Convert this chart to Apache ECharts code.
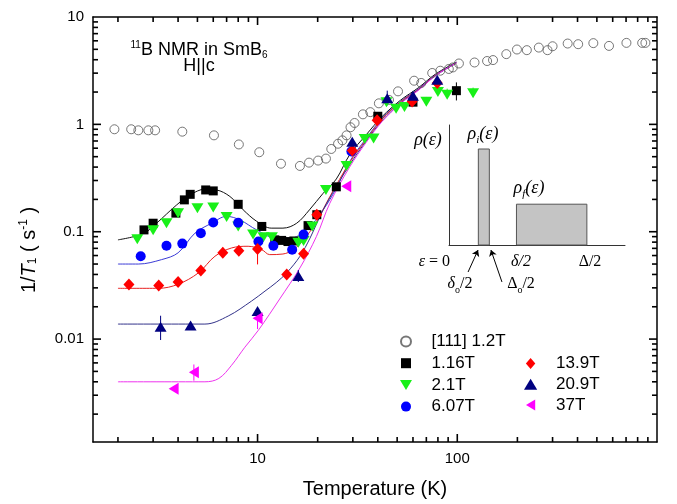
<!DOCTYPE html>
<html>
<head>
<meta charset="utf-8">
<script src="https://cdn.jsdelivr.net/npm/echarts/dist/echarts.min.js"></script>
<style>
  html, body { margin: 0; padding: 0; background: #fff; }
  #chart { width: 677px; height: 504px; }
</style>
</head>
<body>
<div id="chart"></div>
<script>
// 坐标范围 (log-log)
const X_MIN = 1.5, X_MAX = 1000
const Y_MIN = 0.0011, Y_MAX = 10

// tick values
const xLabelTicks = [10, 100]
const xMajorTicks = [10, 100]
const xMinorTicks = [2, 3, 4, 5, 6, 7, 8, 9, 20, 30, 40, 50, 60, 70, 80, 90, 200, 300, 400, 500, 600, 700, 800, 900]
const yLabelTicks = [0.01, 0.1, 1, 10]
const yMajorTicks = [0.01, 0.1, 1]
const yMinorTicks = [0.002, 0.003, 0.004, 0.005, 0.006, 0.007, 0.008, 0.009,
  0.02, 0.03, 0.04, 0.05, 0.06, 0.07, 0.08, 0.09,
  0.2, 0.3, 0.4, 0.5, 0.6, 0.7, 0.8, 0.9,
  2, 3, 4, 5, 6, 7, 8, 9]

// measured 1/T1 data  [T (K), 1/T1 (s^-1)]
const open111 = [[1.92, 0.90], [2.33, 0.90], [2.53, 0.88], [2.84, 0.88], [3.07, 0.88], [4.2, 0.855], [6.05, 0.79],
  [8.06, 0.65], [10.2, 0.55], [13.1, 0.43], [16.3, 0.41], [18.1, 0.44], [20.1, 0.46], [22.0, 0.48], [23.4, 0.59],
  [25.3, 0.66], [26.6, 0.71], [27.9, 0.79], [29.2, 0.94], [30.6, 1.03], [33.7, 1.24], [36.7, 1.30], [40.5, 1.57],
  [45.5, 1.69], [50.5, 2.03], [60.8, 2.55], [66, 2.43], [74.9, 3.01], [82.2, 3.16], [90.7, 3.28], [95, 3.39],
  [101.9, 3.69], [122, 3.77], [141, 3.89], [151, 3.97], [176, 4.51], [199, 4.98], [223, 4.91], [256, 5.19],
  [283, 4.91], [300, 5.34], [357, 5.66], [403, 5.58], [480, 5.71], [575, 5.38], [703, 5.74], [843, 5.74], [875, 5.74]]
const d116 = [[2.7, 0.104], [3.0, 0.12], [3.9, 0.149], [4.3, 0.198], [4.6, 0.223], [5.5, 0.245], [6.0, 0.24],
  [8.0, 0.18], [10.5, 0.112], [12.2, 0.084], [13.2, 0.083], [14.2, 0.081], [15.2, 0.082], [17.9, 0.114],
  [19.8, 0.144], [24.8, 0.262], [40, 1.19], [60, 1.61], [99, 2.06]]
const d21 = [[2.5, 0.085], [3.0, 0.103], [3.5, 0.12], [4.0, 0.149], [5.0, 0.165], [6.0, 0.168], [7.0, 0.137],
  [8.0, 0.112], [9.5, 0.094], [10.7, 0.089], [11.8, 0.089], [16.0, 0.079], [17.0, 0.082], [18.8, 0.112],
  [22.0, 0.245], [27.9, 0.41], [34.4, 0.73], [38.1, 0.74], [44.2, 1.61], [49.4, 1.4], [54.4, 1.45], [70, 1.62],
  [80, 2.0], [89, 1.89], [120, 1.95]]
const d607 = [[2.6, 0.059], [3.5, 0.074], [4.2, 0.0775], [5.2, 0.097], [6.0, 0.122], [8.0, 0.121], [10.1, 0.081],
  [12.0, 0.074], [14.9, 0.068], [17.0, 0.094], [29.5, 0.56]]
const d139 = [[2.27, 0.0323], [3.2, 0.0315], [4.0, 0.034], [5.2, 0.0436], [6.7, 0.0636], [8.06, 0.0665], [10, 0.069],
  [14.0, 0.040], [17, 0.0625], [19.8, 0.144], [29.8, 0.57], [39.7, 1.09], [59.4, 1.63], [79.4, 2.43]]
const d209 = [[3.27, 0.013], [4.62, 0.0134], [10, 0.0183], [16, 0.0386], [29.8, 0.69], [44.6, 1.75], [60, 1.85], [79.4, 2.6]]
const d37 = [[3.8, 0.00345], [4.8, 0.0049], [10, 0.0156], [27.8, 0.265]]

// error bars [T, low, high]
const err116 = [[8.0, 0.165, 0.197], [99, 1.67, 2.46]]
const err21 = [[89, 1.8, 2.15], [120, 1.8, 2.2], [70, 1.5, 1.8]]
const err139 = [[10, 0.0496, 0.0757], [6.7, 0.058, 0.071]]
const err209 = [[3.27, 0.0098, 0.0165], [44.6, 1.5, 2.06], [16, 0.034, 0.044]]
const err37 = [[4.8, 0.0041, 0.0058], [10, 0.0124, 0.0178]]

// fitted curves
const fit116 = [[2.0, 0.084], [2.68, 0.096], [3.12, 0.12], [3.94, 0.178], [4.59, 0.22], [5.45, 0.249], [6.23, 0.245],
  [7.27, 0.213], [8.47, 0.16], [9.9, 0.125], [11.7, 0.108], [13.4, 0.108], [15.7, 0.12], [18.2, 0.16], [21.3, 0.228],
  [24.8, 0.31], [28.9, 0.52], [35, 0.80], [42, 1.18], [52, 1.68], [64, 2.2], [78, 2.95], [99, 3.8]]
const fit607 = [[2.0, 0.05], [2.53, 0.05], [3.31, 0.055], [4.0, 0.0636], [4.86, 0.097], [5.89, 0.12], [7.0, 0.139],
  [8.15, 0.129], [9.9, 0.104], [12.4, 0.087], [14.5, 0.087], [17.6, 0.104], [21.3, 0.16], [24.8, 0.254], [28.9, 0.45],
  [35, 0.74], [42, 1.14], [52, 1.64], [64, 2.15], [78, 2.9], [99, 3.75]]
const fit139 = [[2.0, 0.0297], [3.19, 0.0297], [4.0, 0.0324], [5.06, 0.0414], [6.12, 0.0591], [7.41, 0.0706],
  [8.97, 0.0732], [10.5, 0.068], [11.5, 0.0612], [13.4, 0.062], [15.1, 0.068], [17.0, 0.084], [19.8, 0.125],
  [23, 0.212], [28.9, 0.44], [35, 0.72], [42, 1.12], [52, 1.62], [64, 2.12], [78, 2.88], [99, 3.72]]
const fit209 = [[2.0, 0.0138], [5.45, 0.0138], [7.13, 0.0164], [9.33, 0.0226], [10.9, 0.028], [12.4, 0.0336],
  [14.0, 0.0414], [16.3, 0.059], [18.3, 0.087], [21.3, 0.16], [25, 0.27], [28.9, 0.42], [35, 0.70], [42, 1.08],
  [52, 1.58], [64, 2.1], [78, 2.85], [99, 3.72]]
const fit37 = [[2.0, 0.004], [5.45, 0.004], [6.4, 0.0043], [7.41, 0.0057], [8.64, 0.0084], [10.1, 0.0121],
  [12.9, 0.0236], [16.3, 0.046], [19.7, 0.09], [23, 0.184], [28.9, 0.40], [35, 0.68], [42, 1.06], [52, 1.56],
  [64, 2.08], [78, 2.85], [99, 3.75]]

// inset: density of states sketch  [eps start, eps end, height]
const insetBlocks = [[2.0, 2.75, 8.0], [4.6, 9.4, 3.4]]
const insetArrows = [[[1.30, -2.25], [1.98, -0.42]], [[3.61, -3.08], [2.86, -0.42]]]

const FONT = '"Liberation Sans", Arial, Helvetica, sans-serif'
const SERIF = '"Liberation Serif", "Times New Roman", serif'

const SYM_SQUARE = 'path://M0,0H10V10H0Z'
const SYM_TRI_DOWN = 'path://M0,0H12L6,10Z'
const SYM_TRI_UP = 'path://M6,0L12,10H0Z'
const SYM_TRI_LEFT = 'path://M0,6L10,0V12Z'
const SYM_DIAMOND = 'path://M6,0L12,7L6,14L0,7Z'

function fmtNum (v) {
  return String(+Number(v).toPrecision(3))
}

function logAxis (kind, position, labels) {
  let ax = {
    type: 'log',
    logBase: 10,
    min: kind === 'x' ? X_MIN : Y_MIN,
    max: kind === 'x' ? X_MAX : Y_MAX,
    position: position,
    axisLine: { show: true, onZero: false, lineStyle: { color: '#000', width: 1.5 } },
    axisTick: { show: false },
    axisLabel: { show: false },
    splitLine: { show: false },
    minorTick: { show: false }
  }
  if (labels) {
    ax.axisLabel = {
      show: true,
      customValues: labels,
      margin: 9,
      fontSize: 15,
      color: '#000',
      fontFamily: FONT,
      formatter: fmtNum
    }
  }
  return ax
}

function errRender (params, api) {
  let p1 = api.coord([api.value(0), api.value(1)])
  let p2 = api.coord([api.value(0), api.value(2)])
  return {
    type: 'line',
    shape: { x1: p1[0], y1: p1[1], x2: p2[0], y2: p2[1] },
    style: { stroke: api.visual('color'), lineWidth: 1 }
  }
}

function errSeries (data, color) {
  return {
    type: 'custom',
    renderItem: errRender,
    data: data,
    itemStyle: { color: color },
    silent: true,
    z: 3
  }
}

function fitSeries (data, color) {
  return {
    type: 'line',
    data: data,
    smooth: 0.35,
    showSymbol: false,
    symbol: 'none',
    lineStyle: { color: color, width: 1 },
    silent: true,
    z: 2
  }
}

function scatterSeries (name, data, symbol, size, color) {
  return {
    name: name,
    type: 'scatter',
    data: data,
    symbol: symbol,
    symbolSize: size,
    itemStyle: { color: color, opacity: 1 },
    z: 4
  }
}

function richLabel (x, y, text, rich, extra) {
  return {
    type: 'text', x: x, y: y,
    style: Object.assign({
      text: text, fontSize: 16, fontFamily: SERIF, fill: '#000',
      align: 'center', verticalAlign: 'middle', rich: rich || {}
    }, extra || {})
  }
}

let chart = echarts.init(document.getElementById('chart'), null, { renderer: 'canvas' })

let legendText = { fontSize: 17, color: '#000', fontFamily: FONT }
let subSerif = { fontSize: 11, fontStyle: 'italic', fontFamily: SERIF, lineHeight: 24, verticalAlign: 'bottom' }
let itSerif = { fontSize: 18, fontStyle: 'italic', fontFamily: SERIF, lineHeight: 24, verticalAlign: 'middle' }

let baseGraphics = [
  {
    type: 'text', x: 29, y: 250, rotation: Math.PI / 2,
    style: {
      text: '1/{it|T}{sub|1} ( s{sup|-1} )',
      fontSize: 20, fontFamily: FONT, fill: '#000', align: 'center', verticalAlign: 'middle',
      rich: {
        it: { fontSize: 20, fontStyle: 'italic', fontFamily: FONT, lineHeight: 26, verticalAlign: 'middle' },
        sub: { fontSize: 12, fontFamily: FONT, lineHeight: 26, verticalAlign: 'bottom', padding: [0, 0, 3, 0] },
        sup: { fontSize: 12, fontFamily: FONT, lineHeight: 26, verticalAlign: 'top', padding: [2, 0, 0, 0] }
      }
    }
  },
  {
    type: 'text', x: 199, y: 50,
    style: {
      text: '{sup|11}B NMR in SmB{sub|6}',
      fontSize: 18, fontFamily: FONT, fill: '#000', align: 'center', verticalAlign: 'middle',
      rich: {
        sup: { fontSize: 10, fontFamily: FONT, lineHeight: 22, verticalAlign: 'top', padding: [1, 0, 0, 0] },
        sub: { fontSize: 10, fontFamily: FONT, lineHeight: 22, verticalAlign: 'bottom', padding: [0, 0, 1, 0] }
      }
    }
  },
  {
    type: 'text', x: 199, y: 66,
    style: { text: 'H||c', fontSize: 18, fontFamily: FONT, fill: '#000', align: 'center', verticalAlign: 'middle' }
  },
  // inset labels
  richLabel(428, 140, '{it|ρ(ε)}', { it: itSerif }),
  richLabel(483, 134, '{it|ρ}{sub|i}{it|(ε)}', { it: itSerif, sub: subSerif }),
  richLabel(529, 188, '{it|ρ}{sub|f}{it|(ε)}', { it: itSerif, sub: subSerif }),
  richLabel(450, 262, '{it|ε} = 0', { it: { fontSize: 16, fontStyle: 'italic', fontFamily: SERIF } }, { align: 'right' }),
  richLabel(521, 262, 'δ/2', null, { fontStyle: 'italic' }),
  richLabel(590, 262, 'Δ/2'),
  richLabel(460, 284, '{it|δ}{sub|o}/2', {
    it: { fontSize: 16, fontStyle: 'italic', fontFamily: SERIF, lineHeight: 22, verticalAlign: 'middle' },
    sub: { fontSize: 10, fontFamily: SERIF, lineHeight: 22, verticalAlign: 'bottom' }
  }),
  richLabel(521, 284, 'Δ{sub|o}/2', {
    sub: { fontSize: 10, fontFamily: SERIF, lineHeight: 22, verticalAlign: 'bottom' }
  })
]

let option = {
  animation: false,
  backgroundColor: '#fff',
  grid: [
    { left: 93, right: 20, top: 17, bottom: 60 },
    { left: 449, top: 125, width: 176, height: 120 }
  ],
  xAxis: [
    Object.assign(logAxis('x', 'bottom', xLabelTicks), {
      name: 'Temperature (K)',
      nameLocation: 'middle',
      nameGap: 37,
      nameTextStyle: { fontSize: 20, color: '#000', fontFamily: FONT }
    }),
    logAxis('x', 'top'),
    {
      type: 'value', gridIndex: 1, min: 0, max: 12,
      axisLine: { show: true, onZero: false, lineStyle: { color: '#333', width: 1 } },
      axisTick: { show: false }, axisLabel: { show: false }, splitLine: { show: false }
    }
  ],
  yAxis: [
    logAxis('y', 'left', yLabelTicks),
    logAxis('y', 'right'),
    {
      type: 'value', gridIndex: 1, min: 0, max: 10,
      axisLine: { show: true, onZero: false, lineStyle: { color: '#333', width: 1 } },
      axisTick: { show: false }, axisLabel: { show: false }, splitLine: { show: false }
    }
  ],
  legend: [
    {
      orient: 'vertical', left: 395, top: 328, itemWidth: 41, itemHeight: 10, itemGap: 4.7,
      selectedMode: false, textStyle: legendText,
      data: [
        { name: '[111] 1.2T', icon: 'circle' },
        { name: '1.16T', icon: SYM_SQUARE },
        { name: '2.1T', icon: SYM_TRI_DOWN },
        { name: '6.07T', icon: 'circle' }
      ]
    },
    {
      orient: 'vertical', left: 519, top: 350, itemWidth: 41, itemHeight: 11, itemGap: 3.7,
      selectedMode: false, textStyle: legendText,
      data: [
        { name: '13.9T', icon: SYM_DIAMOND },
        { name: '20.9T', icon: SYM_TRI_UP },
        { name: '37T', icon: SYM_TRI_LEFT }
      ]
    }
  ],
  graphic: baseGraphics,
  series: [
    {
      name: '[111] 1.2T',
      type: 'scatter',
      data: open111,
      symbol: 'circle',
      symbolSize: 9,
      itemStyle: { color: 'rgba(255,255,255,0)', borderColor: '#555', borderWidth: 1 },
      z: 2
    },
    fitSeries(fit116, '#111'),
    fitSeries(fit607, '#3b3bd6'),
    fitSeries(fit139, '#e82020'),
    fitSeries(fit209, '#33338a'),
    fitSeries(fit37, '#ee33ee'),
    errSeries(err116, '#000'),
    errSeries(err21, '#22ee22'),
    errSeries(err139, '#ff0000'),
    errSeries(err209, '#000080'),
    errSeries(err37, '#ff00ff'),
    scatterSeries('1.16T', d116, SYM_SQUARE, 9, '#000'),
    scatterSeries('2.1T', d21, SYM_TRI_DOWN, [12, 10], '#18f018'),
    scatterSeries('6.07T', d607, 'circle', 10, '#0000ff'),
    scatterSeries('13.9T', d139, SYM_DIAMOND, [11, 12], '#ff0000'),
    scatterSeries('20.9T', d209, SYM_TRI_UP, [12, 10], '#000080'),
    scatterSeries('37T', d37, SYM_TRI_LEFT, [10, 12], '#ff00ff'),
    // inset
    {
      type: 'custom',
      xAxisIndex: 2,
      yAxisIndex: 2,
      data: insetBlocks,
      silent: true,
      renderItem: function (params, api) {
        let p0 = api.coord([api.value(0), api.value(2)])
        let p1 = api.coord([api.value(1), 0])
        return {
          type: 'rect',
          shape: { x: p0[0], y: p0[1], width: p1[0] - p0[0], height: p1[1] - p0[1] },
          style: { fill: '#c4c4c4', stroke: '#555', lineWidth: 1 }
        }
      }
    },
    {
      type: 'lines',
      coordinateSystem: 'cartesian2d',
      xAxisIndex: 2,
      yAxisIndex: 2,
      clip: false,
      silent: true,
      symbol: ['none', 'arrow'],
      symbolSize: 6,
      lineStyle: { color: '#000', width: 1, opacity: 1 },
      data: insetArrows.map(function (c) { return { coords: c } })
    }
  ]
}

chart.setOption(option)

// 刻度线 (四边朝内): 位置由坐标轴换算
function tickLines () {
  let xl = chart.convertToPixel({ xAxisIndex: 0 }, X_MIN)
  let xr = chart.convertToPixel({ xAxisIndex: 0 }, X_MAX)
  let yb = chart.convertToPixel({ yAxisIndex: 0 }, Y_MIN)
  let yt = chart.convertToPixel({ yAxisIndex: 0 }, Y_MAX)
  let out = []
  function seg (x1, y1, x2, y2) {
    out.push({
      type: 'line', silent: true, z: 10,
      shape: { x1: x1, y1: y1, x2: x2, y2: y2 },
      style: { stroke: '#000', lineWidth: 1.6 }
    })
  }
  function xTicks (vals, len) {
    vals.forEach(function (v) {
      let px = chart.convertToPixel({ xAxisIndex: 0 }, v)
      seg(px, yb, px, yb - len)
      seg(px, yt, px, yt + len)
    })
  }
  function yTicks (vals, len) {
    vals.forEach(function (v) {
      let py = chart.convertToPixel({ yAxisIndex: 0 }, v)
      seg(xl, py, xl + len, py)
      seg(xr, py, xr - len, py)
    })
  }
  xTicks(xMajorTicks, 8)
  xTicks(xMinorTicks, 5)
  yTicks(yMajorTicks, 8)
  yTicks(yMinorTicks, 5)
  return out
}

chart.setOption({ graphic: baseGraphics.concat(tickLines()) })
</script>
</body>
</html>
